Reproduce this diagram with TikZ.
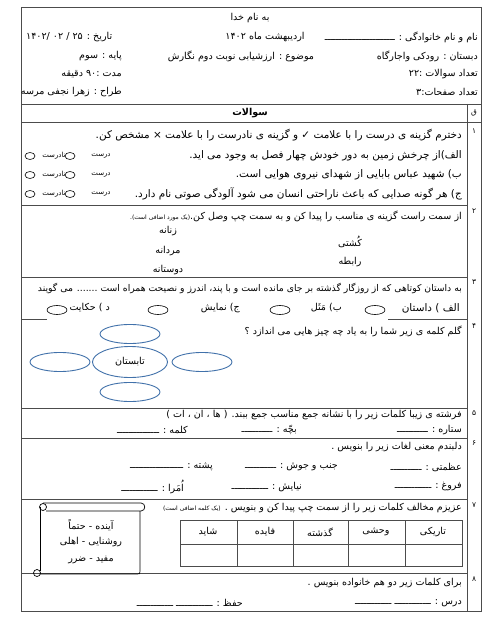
\documentclass[tikz,border=0pt]{standalone}
\usepackage{fontspec}
\usetikzlibrary{shapes.geometric}
\newfontfamily\parsi[Script=Arabic]{DejaVu Sans}
\TeXXeTstate=1
\newcommand{\rl}[1]{\beginR #1\endR}
\definecolor{ideablue}{RGB}{65,113,170}
\begin{document}
\begin{tikzpicture}[x=1bp,y=-1bp,
	frame/.style={draw=black!70, line width=0.7pt},
	txt/.style={inner sep=0pt, font=\parsi\fontsize{9.6}{11}\selectfont},
	big/.style={font=\parsi\fontsize{10.5}{12}\selectfont},
	rtxt/.style={txt, anchor=east},
	ltxt/.style={txt, anchor=west},
	num/.style={inner sep=0pt, font=\parsi\fontsize{7.5}{8}\selectfont},
	tick/.style={draw, ellipse, inner sep=0pt, minimum width=10bp, minimum height=7bp, line width=0.6pt},
	choice/.style={draw, ellipse, inner sep=0pt, minimum width=20bp, minimum height=9bp, line width=0.6pt},
	idea/.style={draw=ideablue, fill=white, ellipse, line width=0.9pt, inner sep=0pt, minimum width=60bp, minimum height=19bp}]
	\useasboundingbox (0,0) rectangle (496,642);
	\draw[frame] (21,7) rectangle (481,611);
	\draw[frame] (21,104)--(481,104);
	\draw[frame] (21,122)--(481,122);
	\draw[frame] (467,104)--(467,611);
	\draw[frame] (21,205)--(467,205);
	\draw[frame] (21,277)--(467,277);
	\draw[frame] (21,319)--(47,319);
	\draw[frame] (388,319)--(467,319);
	\draw[frame] (21,408)--(467,408);
	\draw[frame] (21,438)--(467,438);
	\draw[frame] (21,499)--(467,499);
	\draw[frame] (21,573)--(467,573);
	
	\node[txt] (bism) at (250,18) {\rl{به نام خدا}};
	\node[rtxt] (name) at (478,37) {\rl{نام و نام خانوادگی : ـــــــــــــــــــــــــ}};
	\node[txt] (month) at (265,37) {\rl{اردیبهشت ماه ۱۴۰۲}};
	\node[ltxt] (date) at (26,37) {\rl{تاریخ :  ۲۵ / ۰۲ /۱۴۰۲}};
	\node[rtxt] (school) at (478,56) {\rl{دبستان : رودکی واجارگاه}};
	\node[txt] (topic) at (241,56) {\rl{موضوع : ارزشیابی نوبت دوم نگارش}};
	\node[rtxt] (grade) at (122,56) {\rl{پایه : سوم}};
	\node[rtxt] (count) at (478,74) {\rl{تعداد سوالات :۲۲}};
	\node[rtxt] (time) at (122,74) {\rl{مدت :۹۰ دقیقه}};
	\node[rtxt] (pages) at (478,92) {\rl{تعداد صفحات:۳}};
	\node[rtxt] (author) at (122,92) {\rl{طراح : زهرا نجفی مرسه}};
	\node[txt, font=\parsi\bfseries\fontsize{9.6}{11}\selectfont] (qhead) at (250,113) {\rl{سوالات}};
	\node[num] (rowhead) at (474,113) {ق};
	
	\node[num] (n1) at (474,131) {۱};
	\node[rtxt, big] (q1) at (462,135) {\rl{دخترم گزینه ی درست را با علامت ✓  و گزینه ی نادرست را با علامت × مشخص کن.}};
	\node[rtxt, big] (q1a) at (462,156) {\rl{الف)از چرخش زمین به دور خودش چهار فصل به وجود می اید.}};
	\node[rtxt, big] (q1b) at (462,175) {\rl{ب) شهید عباس بابایی از شهدای نیروی هوایی است.}};
	\node[rtxt, big] (q1c) at (462,194) {\rl{ج) هر گونه صدایی که باعث ناراحتی انسان می شود آلودگی صوتی نام دارد.}};
	\foreach \y/\r in {156/a,175/b,194/c}{
		\node[tick] (no\r) at (30,\y) {};
		\node[txt, font=\parsi\fontsize{7}{8}\selectfont] (nolab\r) at (54,\y) {\rl{نادرست}};
		\node[tick] (yes\r) at (70,\y) {};
		\node[txt, font=\parsi\fontsize{7}{8}\selectfont] (yeslab\r) at (101,\y) {\rl{درست}};
	}
	
	\node[num] (n2) at (474,211) {۲};
	\node[rtxt] (q2) at (462,216) {\rl{از سمت راست گزینه ی  مناسب را پیدا کن و به سمت چپ وصل کن.{\fontsize{6}{7}\selectfont(یک مورد اضافی است).}}};
	\node[txt] (zanane) at (168,231) {\rl{زنانه}};
	\node[txt] (mardane) at (168,251) {\rl{مردانه}};
	\node[txt] (dustane) at (168,270) {\rl{دوستانه}};
	\node[txt] (koshti) at (350,242) {\rl{کُشتی}};
	\node[txt] (rabete) at (350,262) {\rl{رابطه}};
	
	\node[num] (n3) at (474,282) {۳};
	\node[rtxt, font=\parsi\fontsize{9.3}{11}\selectfont] (q3) at (462,288) {\rl{به داستان کوتاهی که از روزگار گذشته بر جای مانده است و با پند، اندرز و نصیحت همراه است ....... می گویند}};
	\node[rtxt, big] (opta) at (460,308) {\rl{الف ) داستان}};
	\node[choice] (ova) at (375,310) {};
	\node[rtxt] (optb) at (342,308) {\rl{ب) مَثَل}};
	\node[choice] (ovb) at (280,310) {};
	\node[rtxt] (optc) at (240,308) {\rl{ج) نمایش}};
	\node[choice] (ovc) at (158,310) {};
	\node[rtxt] (optd) at (110,308) {\rl{د ) حکایت}};
	\node[choice] (ovd) at (57,310) {};
	
	\node[num] (n4) at (474,326) {۴};
	\node[rtxt] (q4) at (462,331) {\rl{گلم کلمه ی زیر شما را به یاد چه  چیز هایی می اندازد ؟}};
	\node[idea] (up) at (130,334) {};
	\node[idea] (down) at (130,392) {};
	\node[idea] (left) at (60,362) {};
	\node[idea] (right) at (202,362) {};
	\node[idea, minimum width=75bp, minimum height=31bp, txt] (summer) at (130,362) {\rl{تابستان}};
	
	\node[num] (n5) at (474,413) {۵};
	\node[rtxt] (q5) at (462,415) {\rl{فرشته ی زیبا کلمات زیر را با نشانه جمع مناسب جمع ببند.  ( ها ، ان ، ات )}};
	\node[rtxt] (setare) at (462,430) {\rl{ستاره :  ـــــــــــ}};
	\node[rtxt] (bache) at (297,430) {\rl{بچّه : ـــــــــــ}};
	\node[rtxt] (kalame) at (188,430) {\rl{کلمه : ـــــــــــــــ}};
	
	\node[num] (n6) at (474,443) {۶};
	\node[rtxt] (q6) at (462,447) {\rl{دلبندم معنی لغات زیر را بنویس .}};
	\node[rtxt] (azamat) at (462,467) {\rl{عظمتی :  ـــــــــــ}};
	\node[rtxt] (jonb) at (338,467) {\rl{جنب و جوش : ـــــــــــ}};
	\node[rtxt] (poshte) at (213,467) {\rl{پشته : ـــــــــــــــــــ}};
	\node[rtxt] (forugh) at (462,487) {\rl{فروغ : ـــــــــــــ}};
	\node[rtxt] (niayesh) at (302,487) {\rl{نیایش : ـــــــــــــ}};
	\node[rtxt] (omara) at (184,487) {\rl{اُمَرا :  ـــــــــــــ}};
	
	\node[num] (n7) at (474,505) {۷};
	\node[rtxt] (q7) at (462,508) {\rl{عزیزم مخالف کلمات زیر را از سمت چپ پیدا کن و بنویس . {\fontsize{6}{7}\selectfont(یک کلمه اضافی است)}}};
	\draw[frame] (180,520) rectangle (462,566);
	\draw[frame] (180,544)--(462,544);
	\foreach \x in {237,293,348,405}
		\draw[frame] (\x,520)--(\x,566);
	\foreach \x/\w/\k in {433/تاریکی/c1,376/وحشی/c2,320/گذشته/c3,265/فایده/c4,208/شاید/c5}
		\node[txt] (\k) at (\x,532) {\rl{\w}};
	\draw[line width=0.7pt] (43,503) -- (141,503) .. controls (146,503) and (146,511) .. (141,511) -- (46,511);
	\draw[line width=0.7pt] (43,507) circle (3.5bp);
	\draw[line width=0.7pt] (40,507) -- (40,571);
	\draw[line width=0.7pt] (140,511) -- (140,571) .. controls (140,574) .. (137,574) -- (40,574);
	\draw[line width=0.7pt] (37,573) circle (3.5bp);
	\node[txt] (pair1) at (91,525) {\rl{آینده  -  حتماً}};
	\node[txt] (pair2) at (91,542) {\rl{روشنایی  -  اهلی}};
	\node[txt] (pair3) at (91,560) {\rl{مفید   -  ضرر}};
	
	\node[num] (n8) at (474,579) {۸};
	\node[rtxt] (q8) at (462,583) {\rl{برای کلمات زیر دو هم خانواده بنویس .}};
	\node[rtxt] (dars) at (462,603) {\rl{درس : ـــــــــــــ    ـــــــــــــ}};
	\node[rtxt] (hefz) at (243,603) {\rl{حفظ : ـــــــــــــ    ـــــــــــــ}};
\end{tikzpicture}
\end{document}
